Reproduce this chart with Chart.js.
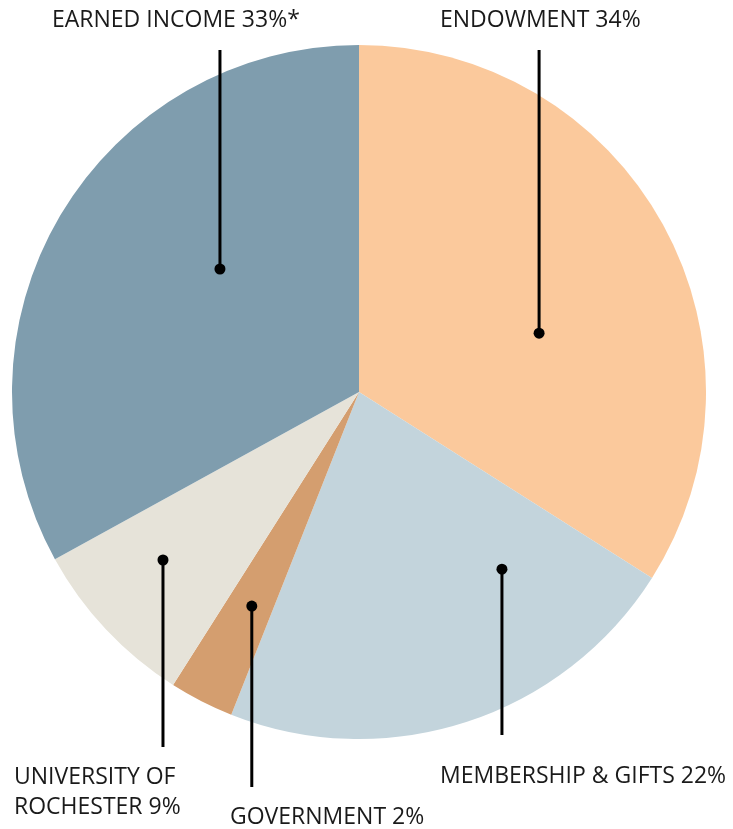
<!DOCTYPE html>
<html>
<head>
<meta charset="utf-8">
<script src="https://cdn.jsdelivr.net/npm/chart.js@4.4.1/dist/chart.umd.min.js"></script>
<style>
  html, body { margin: 0; padding: 0; background: #fff; }
  #wrap { width: 733px; height: 829px; }
</style>
</head>
<body>
<div id="wrap"><canvas id="pie_chart" width="733" height="829"></canvas></div>
<script>
// slice order clockwise from 12 o'clock
const categories = ["ENDOWMENT", "MEMBERSHIP & GIFTS", "GOVERNMENT", "UNIVERSITY OF ROCHESTER", "EARNED INCOME"];
const shares = [34, 22, 3, 8, 33];
const shareLabels = ["ENDOWMENT 34%", "MEMBERSHIP & GIFTS 22%", "GOVERNMENT 2%", ["UNIVERSITY OF", "ROCHESTER 9%"], "EARNED INCOME 33%*"];
const sliceColors = ["#fbc99c", "#c3d4dc", "#d49e6f", "#e6e3d9", "#7f9dae"];

// leader line: dot at (angle deg, fraction of radius), vertical line to lineEnd, text at tx/ty
const leaders = [
  {angle: -18.1, frac: 0.546, lineEnd: 50, tx: 440, ty: 27},
  {angle: 51.1, frac: 0.656, lineEnd: 735, tx: 440, ty: 783},
  {angle: 116.6, frac: 0.690, lineEnd: 787, tx: 230, ty: 824},
  {angle: 139.4, frac: 0.744, lineEnd: 747, tx: 14, ty: 784},
  {angle: 221.5, frac: 0.535, lineEnd: 50, tx: 52, ty: 27}
];

const leaderPlugin = {
  id: "leaders",
  afterDatasetsDraw(chart) {
    const ctx = chart.ctx;
    const arcs = chart.getDatasetMeta(0).data;
    ctx.save();
    arcs.forEach(function(arc, i) {
      const L = leaders[i];
      const a = L.angle * Math.PI / 180;
      const x = arc.x + Math.cos(a) * arc.outerRadius * L.frac;
      const y = arc.y + Math.sin(a) * arc.outerRadius * L.frac;
      ctx.strokeStyle = "#000";
      ctx.lineWidth = 3;
      ctx.beginPath();
      ctx.moveTo(x, y);
      ctx.lineTo(x, L.lineEnd);
      ctx.stroke();
      ctx.fillStyle = "#000";
      ctx.beginPath();
      ctx.arc(x, y, 5.5, 0, Math.PI * 2);
      ctx.fill();

      ctx.fillStyle = "#1a1a1a";
      ctx.font = "23px 'Open Sans'";
      ctx.textAlign = "left";
      ctx.textBaseline = "alphabetic";
      const txt = shareLabels[i];
      if (Array.isArray(txt)) {
        txt.forEach(function(t, k) { ctx.fillText(t, L.tx, L.ty + k * 30); });
      } else {
        ctx.fillText(txt, L.tx, L.ty);
      }
    });
    ctx.restore();
  }
};

let pie_chart = new Chart(document.getElementById("pie_chart"), {
  type: "pie",
  data: {
    labels: categories,
    datasets: [{
      data: shares,
      backgroundColor: sliceColors,
      borderWidth: 0
    }]
  },
  options: {
    responsive: false,
    animation: false,
    layout: { padding: {left: 12, right: 27, top: 45, bottom: 90} },
    plugins: {
      legend: { display: false },
      tooltip: { enabled: false }
    }
  },
  plugins: [leaderPlugin]
});
</script>
</body>
</html>
